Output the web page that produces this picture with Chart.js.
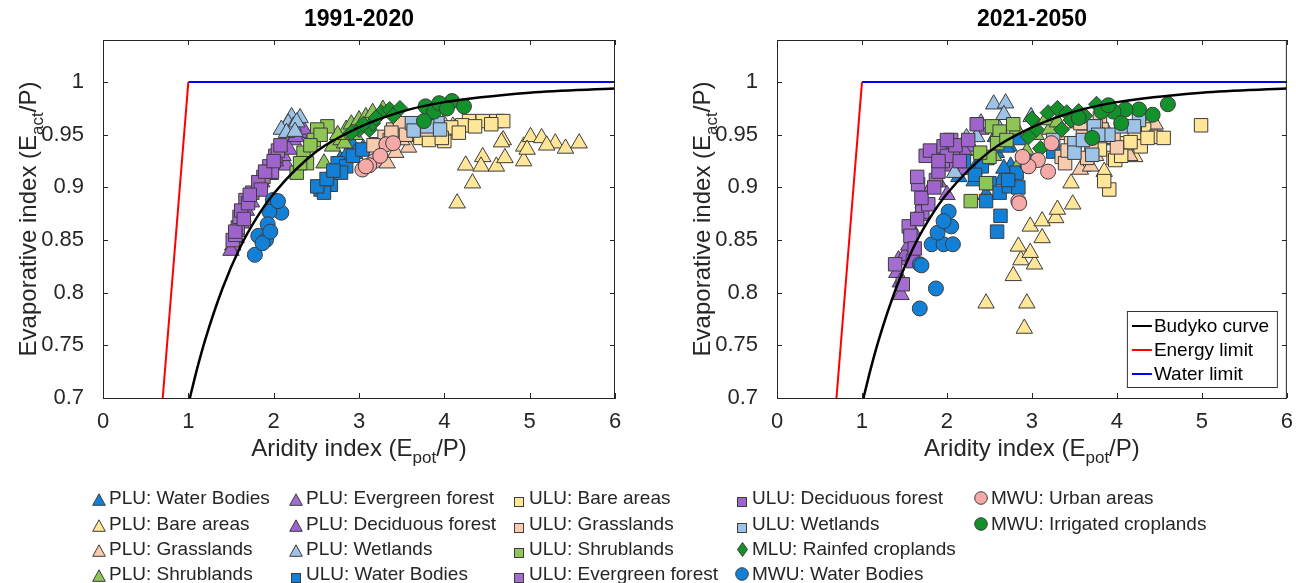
<!DOCTYPE html>
<html>
<head>
<meta charset="utf-8">
<script src="https://cdn.jsdelivr.net/npm/chart.js@4.4.1/dist/chart.umd.min.js"></script>
<style>
  body { margin: 0; background: #fff; width: 1296px; height: 583px; overflow: hidden; position: relative;
         font-family: 'Liberation Sans', Arial, sans-serif; }
  #w1 { position: absolute; left: 0; top: 0; width: 640px; height: 470px; }
  #w2 { position: absolute; left: 656px; top: 0; width: 640px; height: 470px; }
  #legend { position: absolute; left: 0; top: 0; width: 1296px; height: 583px; pointer-events: none; }
  .lab { position: absolute; font-size: 19px; line-height: 22px; color: #262626; white-space: nowrap; }
  .mk { position: absolute; }
</style>
</head>
<body>
<div id="w1"><canvas id="c1"></canvas></div>
<div id="w2"><canvas id="c2"></canvas></div>
<div id="legend"></div>
<script>
// ---- data: [aridity index, evaporative index] pairs ----
const seriesLabels = ['PLU: Water Bodies', 'PLU: Bare areas', 'PLU: Grasslands', 'PLU: Shrublands',
  'PLU: Evergreen forest', 'PLU: Deciduous forest', 'PLU: Wetlands', 'ULU: Water Bodies',
  'ULU: Bare areas', 'ULU: Grasslands', 'ULU: Shrublands', 'ULU: Evergreen forest',
  'ULU: Deciduous forest', 'ULU: Wetlands', 'MLU: Rainfed croplands', 'MWU: Water Bodies',
  'MWU: Urban areas', 'MWU: Irrigated croplands'];

// 1991-2020
const pluWater1 = [[2.92,0.941],[3.05,0.937],[2.78,0.926],[2.66,0.912],[2.95,0.932],[2.72,0.918],[2.85,0.93]];
const pluBare1 = [[4.15,0.885],[4.33,0.904],[4.25,0.921],[4.45,0.929],[4.43,0.92],[4.61,0.92],[4.69,0.945],[4.71,0.928],[4.93,0.925],[4.93,0.939],[5.01,0.948],[5.14,0.947],[5.3,0.942],[5.42,0.937],[5.58,0.942],[4.97,0.936],[5.2,0.94],[4.67,0.943]];
const pluGrass1 = [[3.33,0.923],[3.43,0.933],[3.58,0.938],[3.72,0.948],[3.99,0.961],[3.85,0.95],[3.2,0.935],[3.5,0.945],[3.65,0.955],[4.1,0.958]];
const pluShrub1 = [[2.59,0.923],[2.69,0.939],[2.79,0.945],[2.85,0.955],[2.91,0.96],[3.0,0.964],[3.08,0.967],[2.83,0.942],[3.16,0.971],[3.28,0.974],[2.75,0.95],[2.95,0.95]];
const pluEver1 = [[1.52,0.845],[1.58,0.858],[1.64,0.872],[1.74,0.886],[1.86,0.905],[2.05,0.922],[2.15,0.921],[2.23,0.945],[2.3,0.952],[2.11,0.93],[1.96,0.912]];
const pluDec1 = [[1.5,0.84],[1.56,0.852],[1.68,0.878],[1.8,0.897],[1.92,0.912],[2.02,0.925],[2.18,0.936],[2.26,0.948],[2.35,0.955],[1.62,0.866]];
const pluWet1 = [[2.21,0.967],[2.31,0.966],[2.17,0.961],[2.23,0.958],[2.09,0.955],[2.27,0.962],[2.15,0.952],[2.25,0.953]];
const uluWater1 = [[2.55,0.898],[2.67,0.9025],[2.59,0.895],[2.75,0.923],[2.85,0.92],[2.93,0.93],[2.79,0.914],[3.04,0.936],[2.51,0.901],[2.62,0.908],[2.7,0.916]];
const uluBare1 = [[4.0,0.944],[3.88,0.948],[4.13,0.956],[4.29,0.963],[4.45,0.963],[4.61,0.963],[4.69,0.963],[3.92,0.955],[3.72,0.947],[4.21,0.959],[3.82,0.945],[4.08,0.957],[4.17,0.952],[3.97,0.947],[4.55,0.96],[4.36,0.958]];
const uluGrass1 = [[3.2,0.941],[3.3,0.948],[3.4,0.955],[3.48,0.961],[3.64,0.955],[3.8,0.955],[3.36,0.945],[3.17,0.94],[3.38,0.952],[3.55,0.95],[3.7,0.96]];
const uluShrub1 = [[2.63,0.958],[2.51,0.955],[2.47,0.945],[2.35,0.933],[2.39,0.923],[2.27,0.914],[2.31,0.923],[2.55,0.95],[2.43,0.94]];
const uluEver1 = [[1.52,0.85],[1.58,0.862],[1.6,0.872],[1.67,0.888],[1.75,0.895],[1.88,0.91],[1.95,0.92],[2.02,0.93],[1.98,0.915],[2.05,0.935],[1.55,0.855]];
const uluDec1 = [[1.55,0.858],[1.62,0.878],[1.7,0.885],[1.82,0.905],[1.9,0.915],[2.0,0.925],[2.08,0.94],[1.65,0.87],[1.85,0.898],[1.72,0.893]];
const uluWet1 = [[3.62,0.961],[3.92,0.961],[3.64,0.954],[3.8,0.958],[3.95,0.955]];
const mluRain1 = [[3.0,0.955],[3.12,0.955],[3.16,0.961],[3.26,0.971],[3.36,0.974],[3.48,0.975],[3.2,0.966],[2.91,0.952],[3.4,0.968],[3.05,0.96]];
const mwuWater1 = [[1.99,0.888],[2.09,0.876],[1.95,0.877],[1.93,0.865],[1.82,0.854],[1.91,0.85],[1.78,0.836],[2.05,0.887],[1.87,0.847],[1.96,0.858]];
const mwuUrban1 = [[3.04,0.917],[3.18,0.925],[3.32,0.941],[3.12,0.921],[3.4,0.942],[3.08,0.92],[3.25,0.93]];
const mwuIrr1 = [[3.78,0.977],[3.88,0.972],[4.09,0.982],[4.23,0.977],[3.94,0.98],[3.76,0.963],[4.03,0.975]];

// 2021-2050
const pluWater2 = [[2.32,0.917],[2.46,0.893],[2.73,0.939],[2.64,0.907],[2.32,0.906],[2.57,0.948],[2.84,0.945],[2.14,0.91],[2.46,0.926],[2.58,0.933],[2.7,0.938],[2.75,0.92],[2.67,0.918]];
const pluBare2 = [[2.46,0.79],[2.94,0.79],[2.91,0.766],[2.78,0.816],[2.87,0.831],[3.03,0.827],[2.98,0.838],[2.84,0.844],[3.12,0.852],[2.98,0.863],[3.12,0.868],[3.28,0.871],[3.3,0.879],[3.46,0.904],[3.48,0.884],[3.85,0.915],[4.21,0.929],[3.6,0.92]];
const pluGrass2 = [[3.62,0.923],[3.57,0.917],[3.87,0.955],[3.98,0.945],[4.39,0.961],[4.41,0.955],[3.46,0.961],[3.69,0.92],[3.3,0.95],[4.2,0.95],[3.75,0.93],[4.15,0.93],[4.45,0.96]];
const pluShrub2 = [[2.82,0.955],[2.94,0.934],[3.21,0.955],[3.16,0.964],[2.84,0.921],[3.05,0.95],[2.25,0.935],[3.3,0.962],[2.55,0.93]];
const pluEver2 = [[1.43,0.831],[1.46,0.798],[1.59,0.86],[1.68,0.873],[1.82,0.901],[2.0,0.893],[2.18,0.917],[2.28,0.939],[1.41,0.819],[2.1,0.93]];
const pluDec2 = [[1.45,0.81],[1.5,0.835],[1.62,0.868],[1.72,0.885],[1.9,0.905],[2.05,0.92],[2.2,0.935],[2.4,0.955],[1.55,0.845],[1.95,0.93]];
const pluWet2 = [[2.55,0.979],[2.69,0.98],[2.67,0.969],[2.4,0.961],[2.99,0.967],[2.35,0.948],[2.23,0.947],[2.09,0.914],[2.62,0.955]];
const uluWater2 = [[2.63,0.873],[2.59,0.858],[2.46,0.887],[2.5,0.904],[2.62,0.895],[2.73,0.901],[2.82,0.914],[2.94,0.925],[2.41,0.92],[3.25,0.934],[2.84,0.9],[2.72,0.907],[2.33,0.912],[2.2,0.925]];
const uluBare2 = [[4.99,0.959],[3.91,0.898],[3.85,0.906],[3.96,0.928],[4.1,0.942],[4.28,0.939],[4.32,0.955],[4.46,0.948],[4.55,0.947],[4.21,0.952],[3.8,0.936],[4.16,0.943],[4.36,0.947],[3.98,0.926],[4.05,0.93]];
const uluGrass2 = [[3.35,0.929],[3.46,0.942],[3.57,0.961],[3.8,0.966],[3.82,0.955],[3.39,0.923],[3.6,0.948],[3.96,0.948],[3.7,0.94],[3.42,0.935],[3.65,0.928],[3.75,0.958],[4.0,0.938]];
const uluShrub2 = [[2.53,0.958],[2.62,0.953],[2.78,0.96],[2.46,0.904],[2.28,0.887],[2.59,0.942],[2.5,0.929],[2.39,0.933],[2.7,0.945]];
const uluEver2 = [[1.66,0.903],[1.71,0.877],[1.55,0.863],[1.57,0.854],[1.39,0.827],[1.48,0.808],[1.87,0.907],[1.96,0.939],[2.07,0.931],[1.78,0.884],[1.75,0.93],[1.95,0.925],[2.05,0.945],[1.65,0.91]];
const uluDec2 = [[1.6,0.83],[1.65,0.87],[1.7,0.89],[1.9,0.915],[2.0,0.93],[2.1,0.94],[2.15,0.925],[1.85,0.9],[1.62,0.842],[2.25,0.945],[2.35,0.96],[1.8,0.935],[2.0,0.945],[1.9,0.925]];
const uluWet2 = [[3.5,0.942],[3.5,0.933],[3.73,0.958],[3.71,0.931],[4.26,0.964],[4.05,0.958],[3.25,0.945],[3.9,0.95],[3.6,0.945],[4.2,0.958],[3.78,0.95]];
const mluRain2 = [[3.1,0.937],[3.19,0.971],[3.3,0.975],[3.41,0.971],[3.55,0.972],[3.76,0.979],[3.05,0.955],[3.35,0.955],[3.46,0.964],[2.96,0.948],[3.0,0.965],[3.62,0.968]];
const mwuWater2 = [[1.68,0.827],[1.68,0.785],[1.87,0.804],[1.82,0.846],[1.96,0.846],[2.07,0.846],[1.89,0.857],[2.05,0.863],[2.02,0.877],[1.96,0.868],[1.7,0.826]];
const mwuUrban2 = [[2.84,0.887],[3.07,0.926],[3.19,0.915],[2.96,0.92],[3.23,0.942],[2.89,0.929],[2.85,0.885]];
const mwuIrr2 = [[4.6,0.979],[4.42,0.969],[4.26,0.974],[4.1,0.974],[3.96,0.972],[4.05,0.961],[3.71,0.947],[3.82,0.972],[3.55,0.966],[3.9,0.978]];

const period1 = [pluWater1, pluBare1, pluGrass1, pluShrub1, pluEver1, pluDec1, pluWet1, uluWater1, uluBare1,
  uluGrass1, uluShrub1, uluEver1, uluDec1, uluWet1, mluRain1, mwuWater1, mwuUrban1, mwuIrr1];
const period2 = [pluWater2, pluBare2, pluGrass2, pluShrub2, pluEver2, pluDec2, pluWet2, uluWater2, uluBare2,
  uluGrass2, uluShrub2, uluEver2, uluDec2, uluWet2, mluRain2, mwuWater2, mwuUrban2, mwuIrr2];

// reference lines
const budykoX = [1.0, 1.1, 1.2, 1.4, 1.6, 1.8, 2.0, 2.5, 3.0, 3.5, 4.0, 5.0, 6.0];
const budykoY = [0.694, 0.727, 0.756, 0.804, 0.842, 0.871, 0.894, 0.934, 0.957, 0.972, 0.981, 0.990, 0.994];
const energyX = [0.7, 1];
const energyY = [0.7, 1];
const waterX = [1, 6];
const waterY = [1, 1];

const xTicks = [0, 1, 2, 3, 4, 5, 6];
const yTicks = [0.7, 0.75, 0.8, 0.85, 0.9, 0.95, 1];
const yTickLabels = ['0.7', '0.75', '0.8', '0.85', '0.9', '0.95', '1'];

// ---- styles ----
const FONT = "'Liberation Sans', Arial, sans-serif";
const INK = '#262626';
const EDGE = '#3c3c3c';
const blue = '#1380d8', bare = '#ffe699', grass = '#f8cbad', shrub = '#8fc556', purple = '#a56dd2',
  purple2 = '#9f63cc', wet = '#9dc3e6', pink = '#f5aaa8', dgreen = '#13912a';
const seriesColors = [blue, bare, grass, shrub, purple, purple2, wet, blue, bare, grass, shrub, purple, purple2,
  wet, dgreen, blue, pink, dgreen];
const seriesShapes = ['triangle', 'triangle', 'triangle', 'triangle', 'triangle', 'triangle', 'triangle',
  'rect', 'rect', 'rect', 'rect', 'rect', 'rect', 'rect', 'rectRot', 'circle', 'circle', 'circle'];
const shapeRadius = { triangle: 9.5, rect: 9.5, rectRot: 8, circle: 7.5 };

const zip = (xs, ys) => xs.map((x, i) => ({ x: x, y: ys[i] }));

function buildDatasets(pts) {
  const ds = seriesLabels.map((name, i) => ({
    type: 'scatter',
    label: name,
    data: pts[i].map(p => ({ x: p[0], y: p[1] })),
    pointStyle: seriesShapes[i],
    pointRadius: shapeRadius[seriesShapes[i]],
    backgroundColor: seriesColors[i],
    borderColor: EDGE,
    borderWidth: 1,
    order: 100 - i
  }));
  ds.push({ type: 'line', label: 'Budyko curve', data: zip(budykoX, budykoY), borderColor: '#000',
    borderWidth: 2.5, pointRadius: 0, cubicInterpolationMode: 'monotone', fill: false, order: 0 });
  ds.push({ type: 'line', label: 'Energy limit', data: zip(energyX, energyY), borderColor: '#ff0000',
    borderWidth: 2, pointRadius: 0, fill: false, order: 0 });
  ds.push({ type: 'line', label: 'Water limit', data: zip(waterX, waterY), borderColor: '#0000ff',
    borderWidth: 2, pointRadius: 0, fill: false, order: 0 });
  return ds;
}

// text with subscript parts: [[text, isSub], ...], centred on (0,0) baseline
function richText(ctx, parts, size) {
  const sub = Math.round(size * 0.72);
  const w = parts.map(p => { ctx.font = (p[1] ? sub : size) + 'px ' + FONT; return ctx.measureText(p[0]).width; });
  let x = -w.reduce((a, b) => a + b, 0) / 2;
  parts.forEach((p, i) => {
    ctx.font = (p[1] ? sub : size) + 'px ' + FONT;
    ctx.fillText(p[0], x, p[1] ? size * 0.3 : 0);
    x += w[i];
  });
}

const framePlugin = {
  id: 'frame',
  afterDraw(chart, args, opts) {
    const { ctx, chartArea: a, scales: { x, y } } = chart;
    ctx.save();
    ctx.strokeStyle = INK;
    ctx.lineWidth = 1;
    ctx.beginPath();
    ctx.moveTo(a.left, a.top + 0.5); ctx.lineTo(a.right, a.top + 0.5);
    ctx.moveTo(a.right - 0.5, a.top); ctx.lineTo(a.right - 0.5, a.bottom);
    x.ticks.forEach(t => {
      const px = Math.round(x.getPixelForValue(t.value)) + 0.5;
      ctx.moveTo(px, a.bottom); ctx.lineTo(px, a.bottom - 5);
      ctx.moveTo(px, a.top); ctx.lineTo(px, a.top + 5);
    });
    y.ticks.forEach(t => {
      const py = Math.round(y.getPixelForValue(t.value)) + 0.5;
      ctx.moveTo(a.left, py); ctx.lineTo(a.left + 5, py);
      ctx.moveTo(a.right, py); ctx.lineTo(a.right - 5, py);
    });
    ctx.stroke();

    ctx.fillStyle = '#000';
    ctx.textAlign = 'left';
    ctx.textBaseline = 'alphabetic';
    ctx.font = 'bold 23px ' + FONT;
    const tw = ctx.measureText(opts.title).width;
    ctx.fillText(opts.title, (a.left + a.right) / 2 - tw / 2, 26);

    ctx.fillStyle = INK;
    ctx.save();
    ctx.translate((a.left + a.right) / 2, 456);
    richText(ctx, [['Aridity index (E', false], ['pot', true], ['/P)', false]], 24);
    ctx.restore();
    ctx.save();
    ctx.translate(a.left - 67, (a.top + a.bottom) / 2);
    ctx.rotate(-Math.PI / 2);
    richText(ctx, [['Evaporative index (E', false], ['act', true], ['/P)', false]], 24);
    ctx.restore();

    if (opts.box) {
      const lines = chart.data.datasets.filter(d => d.type === 'line');
      const bw = 150, bx = a.right - 10 - bw, by = 311, bh = 76;
      ctx.fillStyle = '#fff';
      ctx.fillRect(bx, by, bw, bh);
      ctx.strokeStyle = '#333';
      ctx.strokeRect(bx + 0.5, by + 0.5, bw, bh);
      ctx.font = '19px ' + FONT;
      ctx.textBaseline = 'middle';
      lines.forEach((d, i) => {
        const ry = by + 15 + i * 24;
        ctx.strokeStyle = d.borderColor;
        ctx.lineWidth = 2;
        ctx.beginPath(); ctx.moveTo(bx + 5, ry); ctx.lineTo(bx + 25, ry); ctx.stroke();
        ctx.fillStyle = '#000';
        ctx.fillText(d.label, bx + 27, ry + 1);
      });
    }
    ctx.restore();
  }
};

function makeConfig(pts, title, axisWidth, rightPad, box) {
  return {
    type: 'scatter',
    data: { datasets: buildDatasets(pts) },
    options: {
      responsive: true,
      maintainAspectRatio: false,
      animation: false,
      layout: { padding: { top: 40, right: rightPad, left: 0, bottom: 0 }, autoPadding: false },
      plugins: { legend: { display: false }, tooltip: { enabled: false }, frame: { title: title, box: box } },
      scales: {
        x: {
          type: 'linear', min: 0, max: 6,
          afterBuildTicks: s => { s.ticks = xTicks.map(v => ({ value: v })); },
          afterFit: s => { s.height = 72; },
          grid: { display: false },
          border: { display: true, color: INK, width: 1 },
          ticks: { font: { family: FONT, size: 22 }, color: INK, padding: 3, maxRotation: 0 }
        },
        y: {
          type: 'linear', min: 0.7, max: 1.04,
          afterBuildTicks: s => { s.ticks = yTicks.map(v => ({ value: v })); },
          afterFit: s => { s.width = axisWidth; },
          grid: { display: false },
          border: { display: true, color: INK, width: 1 },
          ticks: { font: { family: FONT, size: 22 }, color: INK, padding: 11, callback: (v, i) => yTickLabels[i] }
        }
      }
    },
    plugins: [framePlugin]
  };
}

const chart1 = new Chart(document.getElementById('c1'), makeConfig(period1, '1991-2020', 103, 25, false));
const chart2 = new Chart(document.getElementById('c2'), makeConfig(period2, '2021-2050', 121, 6, true));

// ---- shared legend below, built from the chart's own scatter datasets (column-major, 4 rows) ----
const legendCols = [99, 296, 519, 742, 981];
const legendRows = [498, 524, 549, 574];
function markerSvg(shape, color) {
  const s = 'stroke="' + EDGE + '" stroke-width="1" fill="' + color + '"';
  if (shape === 'triangle') return { w: 14, h: 13, svg: '<polygon points="7,0.8 13.3,12.3 0.7,12.3" ' + s + '/>' };
  if (shape === 'rect') return { w: 10, h: 10, svg: '<rect x="0.5" y="0.5" width="9" height="9" ' + s + '/>' };
  if (shape === 'rectRot') return { w: 11, h: 15, svg: '<polygon points="5.5,0.5 10.5,7.5 5.5,14.5 0.5,7.5" ' + s + '/>' };
  return { w: 14, h: 14, svg: '<circle cx="7" cy="7" r="6.3" ' + s + '/>' };
}
const host = document.getElementById('legend');
chart2.data.datasets.filter(d => d.type === 'scatter').forEach((d, i) => {
  const cx = legendCols[Math.floor(i / 4)], cy = legendRows[i % 4];
  const m = markerSvg(d.pointStyle, d.backgroundColor);
  const mk = document.createElement('div');
  mk.className = 'mk';
  mk.style.left = (cx - m.w / 2) + 'px';
  mk.style.top = (cy - m.h / 2) + 'px';
  mk.innerHTML = '<svg width="' + m.w + '" height="' + m.h + '">' + m.svg + '</svg>';
  host.appendChild(mk);
  const lab = document.createElement('div');
  lab.className = 'lab';
  lab.style.left = (cx + 10) + 'px';
  lab.style.top = (cy - 11) + 'px';
  lab.textContent = d.label;
  host.appendChild(lab);
});
</script>
</body>
</html>
